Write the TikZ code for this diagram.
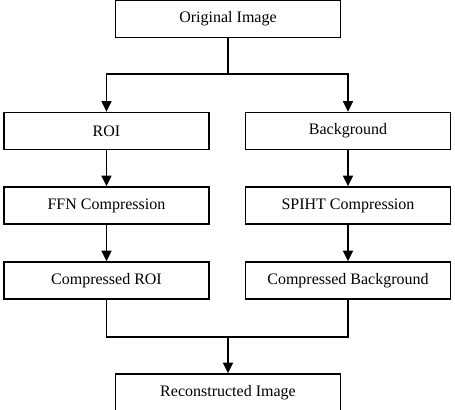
\documentclass[tikz,border=0pt]{standalone}
\usepackage{fontspec}
\setmainfont{Liberation Serif}
\usetikzlibrary{arrows.meta}

\begin{document}
\begin{tikzpicture}[x=0.75pt,y=-0.75pt,
  box/.style={draw,line width=1pt,minimum width=153.75pt,minimum height=27.75pt,inner sep=0pt,font=\fontsize{12}{14}\selectfont},
  wide/.style={box,minimum width=168.75pt},
  link/.style={line width=1.2pt},
  arr/.style={link,-{Triangle[width=7.5pt,length=8pt]}}]
\useasboundingbox (0,0) rectangle (455,410);
\node[wide] (orig) at (228,19) {Original Image};
\node[box] (roi) at (106.5,131) {ROI};
\node[box] (bg) at (348,131) {Background};
\node[box] (ffn) at (106.5,205.5) {FFN Compression};
\node[box] (spiht) at (348,205.5) {SPIHT Compression};
\node[box] (croi) at (106.5,280.5) {Compressed ROI};
\node[box] (cbg) at (348,280.5) {Compressed Background};
\node[wide] (rec) at (228,392.5) {Reconstructed Image};
\coordinate (split) at (228,74);
\coordinate (merge) at (228,337);
\draw[link] (orig) -- (split);
\draw[arr] (split) -| (roi);
\draw[arr] (split) -| (bg);
\draw[arr] (roi) -- (ffn);
\draw[arr] (bg) -- (spiht);
\draw[arr] (ffn) -- (croi);
\draw[arr] (spiht) -- (cbg);
\draw[link] (croi) |- (merge) -| (cbg);
\draw[arr] (merge) -- (rec);
\end{tikzpicture}
\end{document}
